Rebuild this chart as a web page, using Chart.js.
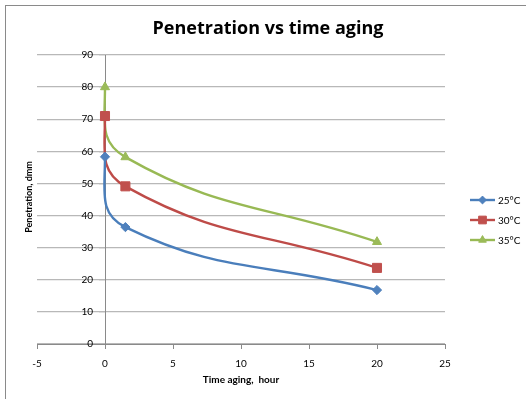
<!DOCTYPE html>
<html>
<head>
<meta charset="utf-8">
<script src="https://cdn.jsdelivr.net/npm/chart.js@4/dist/chart.umd.min.js"></script>
<style>
  html, body { margin: 0; padding: 0; background: #fff; }
  #wrap { width: 526px; height: 399px; position: relative; }
</style>
</head>
<body>
<div id="wrap"><canvas id="c" width="526" height="399"></canvas></div>
<script>
// Aging time (hours) and penetration (dmm) at three test temperatures
const agingHours = [0, 1.5, 20];
const pen25 = [58.3, 36.4, 16.8];
const pen30 = [71, 49.1, 23.7];
const pen35 = [80, 58.2, 31.8];
const seriesNames = ['25°C', '30°C', '35°C'];

const chartTitle = 'Penetration vs time aging';
const xTitle = 'Time aging,  hour';
const yTitle = 'Penetration, dmm';

const xMin = -5, xMax = 25, xStep = 5;
const yMin = 0, yMax = 90, yStep = 10;

const FONT = 'Lato, "Open Sans", sans-serif';
const TITLE_FONT = '"Open Sans", Lato, sans-serif';

const lineColors = ['#4A7EBB', '#BE4B48', '#98B954'];
const markColors = ['#4F81BD', '#C0504D', '#9BBB59'];
const markShapes = ['rectRot', 'rect', 'triangle'];
const markRadius = [4.6, 6.4, 5.2];

const toPoints = ys => agingHours.map((x, i) => ({ x, y: ys[i] }));
const seriesValues = [pen25, pen30, pen35];

const datasets = seriesValues.map((vals, i) => ({
  label: seriesNames[i],
  data: toPoints(vals),
  showLine: true,
  borderColor: lineColors[i],
  borderWidth: 2.4,
  tension: 0.45,
  pointStyle: markShapes[i],
  pointRadius: markRadius[i],
  pointHoverRadius: markRadius[i],
  pointBackgroundColor: markColors[i],
  pointBorderColor: markColors[i],
  pointBorderWidth: 1
}));

// Each smoothed curve leaves its first reading heading straight down
const verticalStart = {
  id: 'verticalStart',
  beforeDatasetDraw(chart, args) {
    const line = args.meta.dataset;
    if (!line) return;
    line.updateControlPoints(chart.chartArea, 'x');
    const pts = line.points;
    if (!pts || pts.length < 2) return;
    const p0 = pts[0], p1 = pts[1];
    p0.cp2x = p0.x;
    p0.cp2y = p0.y + 0.5 * (p1.y - p0.y);
  }
};

// The y axis sits at x = 0; keep its labels clear of the tick marks
const yLabelGap = {
  id: 'yLabelGap',
  beforeDraw(chart) {
    const ys = chart.scales.y;
    ys.getLabelItems(chart.chartArea).forEach(item => {
      if (!item._moved) {
        item.options.translation[0] -= 12;
        item._moved = true;
      }
    });
  }
};

// Frame, titles and legend drawn on the same canvas
const decorations = {
  id: 'decorations',
  beforeDraw(chart) {
    const ctx = chart.ctx;
    ctx.save();
    ctx.fillStyle = '#fff';
    ctx.fillRect(0, 0, chart.width, chart.height);
    ctx.strokeStyle = '#8a8a8a';
    ctx.lineWidth = 1;
    ctx.strokeRect(5.5, 5.5, 540, 420);
    ctx.restore();
  },
  afterDraw(chart) {
    const ctx = chart.ctx;
    const area = chart.chartArea;
    ctx.save();
    ctx.fillStyle = '#000';
    ctx.textAlign = 'center';
    ctx.textBaseline = 'alphabetic';
    ctx.font = 'bold 18px ' + TITLE_FONT;
    ctx.fillText(chartTitle, 268, 34);

    ctx.font = 'bold 10px ' + FONT;
    ctx.fillText(xTitle, (area.left + area.right) / 2, 383);

    ctx.save();
    ctx.translate(31.5, 197);
    ctx.rotate(-Math.PI / 2);
    ctx.font = 'bold 9px ' + FONT;
    ctx.fillText(yTitle, 0, 0);
    ctx.restore();

    // legend: short line with the series marker, then the name
    const legendY = [200, 220, 240];
    chart.data.datasets.forEach((ds, i) => {
      const y = legendY[i];
      ctx.strokeStyle = ds.borderColor;
      ctx.lineWidth = 2.4;
      ctx.beginPath();
      ctx.moveTo(470, y);
      ctx.lineTo(495, y);
      ctx.stroke();
      ctx.fillStyle = ds.pointBackgroundColor;
      ctx.strokeStyle = ds.pointBorderColor;
      ctx.lineWidth = 1;
      Chart.helpers.drawPoint(ctx, {
        pointStyle: ds.pointStyle,
        radius: ds.pointRadius * 0.85,
        rotation: 0,
        borderWidth: 1
      }, 482.5, y);
      ctx.fillStyle = '#000';
      ctx.textAlign = 'left';
      ctx.textBaseline = 'middle';
      ctx.font = '10px ' + FONT;
      ctx.fillText(ds.label, 498, y + 1);
    });
    ctx.restore();
  }
};

new Chart(document.getElementById('c'), {
  type: 'scatter',
  data: { datasets },
  options: {
    responsive: false,
    animation: false,
    events: [],
    layout: { padding: { left: 37, right: 81, top: 55, bottom: 55 } },
    plugins: {
      legend: { display: false },
      title: { display: false },
      tooltip: { enabled: false }
    },
    scales: {
      x: {
        type: 'linear',
        position: { y: 0 },
        min: xMin, max: xMax,
        ticks: { stepSize: xStep, color: '#000', font: { family: FONT, size: 10 }, padding: 10 },
        grid: { drawOnChartArea: false, drawTicks: true, tickLength: 4, color: '#8a8a8a' },
        border: { color: '#8a8a8a', width: 1 }
      },
      y: {
        type: 'linear',
        position: { x: 0 },
        min: yMin, max: yMax,
        ticks: { stepSize: yStep, color: '#000', font: { family: FONT, size: 10 } },
        grid: { color: '#b8b8b8', lineWidth: 1.3, tickLength: 6 },
        border: { color: '#8a8a8a', width: 1 }
      }
    }
  },
  plugins: [verticalStart, yLabelGap, decorations]
});
</script>
</body>
</html>
